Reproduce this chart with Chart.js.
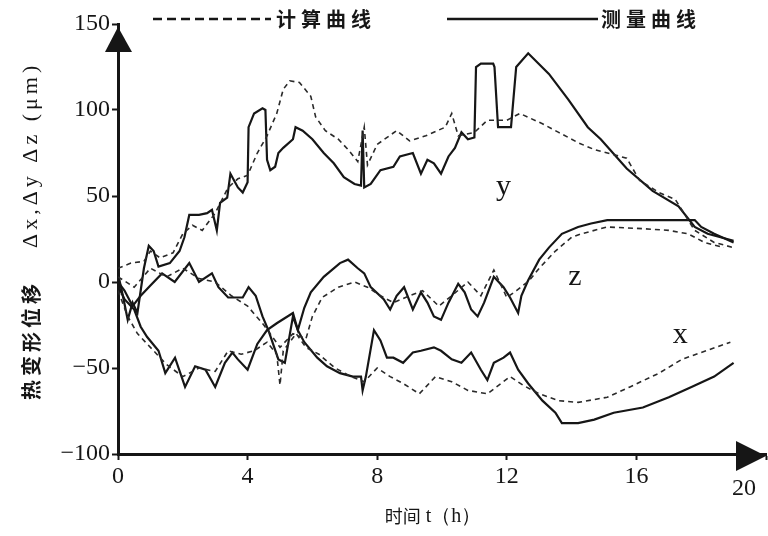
<!DOCTYPE html>
<html>
<head>
<meta charset="utf-8">
<script src="https://cdn.jsdelivr.net/npm/chart.js@4.4.0/dist/chart.umd.min.js"></script>
<style>
  body { margin: 0; background: #fff; }
  canvas { display: block; }
</style>
</head>
<body>
<canvas id="chart" width="768" height="536"></canvas>
<script>
// --- DATA (t in h, displacement in um) ---
// y, measured (solid)
const tYm = [0, 0.15, 0.3, 0.45, 0.6, 0.8, 0.95, 1.1, 1.25, 1.6, 1.9, 2.05, 2.2, 2.5, 2.75, 2.9, 3.05, 3.15, 3.37, 3.47, 3.7, 3.85, 4.0, 4.03, 4.2, 4.46, 4.55, 4.6, 4.7, 4.85, 4.95, 5.1, 5.4, 5.48, 5.7, 6.0, 6.35, 6.66, 6.97, 7.3, 7.5, 7.55, 7.6, 7.8, 8.1, 8.5, 8.7, 9.1, 9.35, 9.55, 9.75, 9.97, 10.2, 10.4, 10.6, 10.8, 11.0, 11.05, 11.2, 11.58, 11.62, 11.73, 12.13, 12.29, 12.66, 13.3, 13.9, 14.5, 14.9, 15.7, 16.5, 17.3, 17.8, 18.2, 19.0];
const vYm = [5, -8, -22, -12, -18, 8, 21, 18, 9, 11, 18, 26, 39, 39, 40, 42, 30, 46, 49, 63, 55, 52, 58, 90, 98, 101, 100, 71, 65, 67, 75, 78, 83, 90, 88, 83, 75, 69, 61, 57, 56, 88, 55, 57, 65, 67, 73, 75, 63, 71, 69, 63, 73, 78, 87, 83, 84, 125, 127, 127, 125, 90, 90, 125, 133, 121, 106, 90, 83, 66, 53, 44, 32, 28, 24];
// y, calculated (dashed)
const tYc = [0, 0.4, 0.8, 1.0, 1.3, 1.7, 2.0, 2.3, 2.6, 3.0, 3.4, 3.7, 4.0, 4.3, 4.6, 4.9, 5.1, 5.3, 5.6, 5.95, 6.1, 6.4, 6.8, 7.1, 7.4, 7.6, 7.7, 8.0, 8.6, 9.0, 9.5, 10.1, 10.3, 10.5, 11.0, 11.4, 12.0, 12.4, 13.1, 13.6, 14.2, 14.7, 15.7, 16.1, 16.7, 17.2, 17.8, 18.4, 19.0];
const vYc = [8, 11, 12, 18, 14, 17, 28, 33, 30, 40, 55, 60, 62, 75, 85, 98, 112, 117, 116, 108, 96, 88, 83, 77, 70, 90, 68, 80, 88, 82, 85, 90, 98, 85, 87, 94, 94, 98, 92, 87, 81, 77, 72, 59, 52, 48, 30, 23, 20];
// z, measured
const tZm = [0, 0.2, 0.45, 0.7, 1.0, 1.36, 1.75, 2.2, 2.5, 2.9, 3.1, 3.4, 3.85, 4.03, 4.25, 4.46, 4.64, 4.95, 5.15, 5.4, 5.55, 5.75, 5.95, 6.35, 6.85, 7.1, 7.4, 7.6, 7.8, 8.2, 8.4, 8.6, 8.83, 9.1, 9.35, 9.55, 9.75, 9.97, 10.2, 10.5, 10.7, 10.9, 11.1, 11.3, 11.6, 11.9, 12.1, 12.35, 12.45, 12.66, 13.0, 13.3, 13.7, 14.2, 14.6, 15.1, 16.5, 17.8, 18.0, 18.4, 19.0];
const vZm = [0, -5, -14, -8, -2, 5, 0, 11, 0, 5, -3, -9, -9, -3, -8, -20, -28, -45, -47, -20, -28, -15, -6, 3, 11, 13, 8, 5, -3, -10, -16, -8, -3, -16, -6, -12, -20, -22, -12, -1, -6, -16, -20, -12, 3, -3, -9, -18, -8, 1, 13, 20, 28, 32, 34, 36, 36, 36, 32, 28, 23];
// z, calculated
const tZc = [0, 0.5, 1.0, 1.5, 2.0, 2.5, 3.0, 3.5, 4.0, 4.5, 5.0, 5.4, 5.8, 6.0, 6.3, 6.8, 7.3, 7.7, 8.1, 8.5, 9.0, 9.4, 9.9, 10.3, 10.8, 11.2, 11.6, 12.0, 12.3, 12.7, 13.0, 13.5, 14.0, 14.3, 15.1, 16.2, 17.0, 17.6, 18.1, 18.7];
const vZc = [3, -3, 8, 3, 8, 2, 0, -8, -14, -25, -38, -30, -33, -20, -9, -3, 0, -3, -8, -12, -8, -5, -14, -8, 0, -8, 7, -9, -5, 1, 8, 18, 26, 28, 32, 31, 30, 28, 23, 20];
// x, measured
const tXm = [0, 0.2, 0.5, 0.7, 0.9, 1.25, 1.46, 1.76, 2.07, 2.38, 2.7, 3.0, 3.3, 3.53, 3.7, 4.0, 4.3, 4.6, 4.9, 5.4, 5.55, 5.75, 6.15, 6.45, 6.85, 7.25, 7.5, 7.55, 7.65, 7.9, 8.1, 8.3, 8.5, 8.8, 9.1, 9.35, 9.75, 9.97, 10.3, 10.6, 10.9, 11.2, 11.4, 11.6, 11.9, 12.1, 12.35, 12.66, 13.1, 13.5, 13.7, 14.2, 14.7, 15.3, 16.2, 17.0, 17.7, 18.4, 19.0];
const vXm = [-2, -10, -16, -26, -32, -40, -53, -44, -61, -49, -51, -61, -47, -41, -45, -51, -36, -28, -24, -18, -28, -35, -44, -49, -53, -55, -55, -63, -55, -28, -34, -44, -44, -47, -41, -40, -38, -40, -45, -47, -41, -51, -57, -47, -44, -41, -51, -59, -69, -76, -82, -82, -80, -76, -73, -67, -61, -55, -47];
// x, calculated
const tXc = [0, 0.3, 0.6, 1.0, 1.5, 2.0, 2.5, 3.0, 3.4, 3.8, 4.2, 4.6, 4.9, 5.0, 5.1, 5.5, 5.8, 6.2, 6.7, 7.2, 7.6, 8.0, 8.4, 8.8, 9.3, 9.8, 10.3, 10.8, 11.4, 12.1, 12.5, 13.0, 13.6, 14.2, 15.1, 15.8, 16.7, 17.4, 18.0, 18.9];
const vXc = [-5, -20, -30, -38, -48, -55, -50, -52, -40, -42, -40, -35, -42, -60, -40, -30, -38, -42, -50, -55, -58, -50, -55, -59, -65, -55, -58, -63, -65, -55, -60, -65, -69, -70, -67, -61, -53, -45, -41, -35];

const legendLabels = ['计算曲线', '测量曲线'];
const curveNames = ['y', 'z', 'x'];
const xTitle = ['时间', ' t（h）'];
const yTitle = ['热变形位移', 'Δx,Δy Δz (μm)'];

// --- STYLE ---
const ink = '#161616';
const serif = '"Liberation Serif", "DejaVu Serif", serif';
const cjk = '"Noto Sans CJK SC", sans-serif';

function toPoints(ts, vs) {
    return ts.map((t, i) => ({ x: t, y: vs[i] }));
}

function solid(ts, vs) {
    return { data: toPoints(ts, vs), borderColor: ink, borderWidth: 2.2, pointRadius: 0, tension: 0 };
}

function dashed(ts, vs) {
    return { data: toPoints(ts, vs), borderColor: '#2a2a2a', borderWidth: 1.6, borderDash: [5, 4], pointRadius: 0, tension: 0 };
}

function minus(v) {
    return v < 0 ? '\u2212' + Math.abs(v) : String(v);
}

// arrows, legend, curve names and axis titles
const decor = {
    id: 'decor',
    afterDraw(chart) {
        const { ctx, chartArea: a, scales: { x, y } } = chart;
        ctx.save();
        ctx.fillStyle = ink;
        ctx.strokeStyle = ink;

        // y axis arrow
        ctx.beginPath();
        ctx.moveTo(a.left, a.top + 3);
        ctx.lineTo(a.left - 13, a.top + 28);
        ctx.lineTo(a.left + 14, a.top + 28);
        ctx.closePath();
        ctx.fill();

        // x axis arrow
        ctx.beginPath();
        ctx.moveTo(a.right, a.bottom + 2);
        ctx.lineTo(a.right - 30, a.bottom - 13);
        ctx.lineTo(a.right - 30, a.bottom + 17);
        ctx.closePath();
        ctx.fill();

        // last x tick label sits under the arrow
        ctx.font = '24px ' + serif;
        ctx.textAlign = 'center';
        ctx.textBaseline = 'middle';
        ctx.fillText('20', a.right - 22, a.bottom + 35);

        // legend
        ctx.lineWidth = 2.5;
        ctx.setLineDash([9, 5]);
        ctx.beginPath();
        ctx.moveTo(153, 19);
        ctx.lineTo(271, 19);
        ctx.stroke();
        ctx.setLineDash([]);
        ctx.beginPath();
        ctx.moveTo(447, 19);
        ctx.lineTo(598, 19);
        ctx.stroke();
        ctx.font = 'bold 20px ' + cjk;
        ctx.letterSpacing = '5px';
        ctx.textAlign = 'left';
        ctx.fillText(legendLabels[0], 276, 19);
        ctx.fillText(legendLabels[1], 601, 19);
        ctx.letterSpacing = '0px';

        // curve names
        ctx.font = '30px ' + serif;
        ctx.textAlign = 'center';
        ctx.fillText(curveNames[0], x.getPixelForValue(11.9), y.getPixelForValue(55));
        ctx.fillText(curveNames[1], x.getPixelForValue(14.1), y.getPixelForValue(3));
        ctx.fillText(curveNames[2], x.getPixelForValue(17.35), y.getPixelForValue(-31));

        // x title
        ctx.textAlign = 'left';
        ctx.font = '18px ' + cjk;
        const w1 = ctx.measureText(xTitle[0]).width;
        ctx.font = '20px ' + serif;
        const w2 = ctx.measureText(xTitle[1]).width;
        const x0 = 433 - (w1 + w2) / 2;
        ctx.font = '18px ' + cjk;
        ctx.fillText(xTitle[0], x0, 516);
        ctx.font = '20px ' + serif;
        ctx.fillText(xTitle[1], x0 + w1, 517);

        // y title, reading bottom to top
        ctx.translate(31, 400);
        ctx.rotate(-Math.PI / 2);
        ctx.font = 'bold 20px ' + cjk;
        ctx.letterSpacing = '4px';
        ctx.fillText(yTitle[0], 0, 0);
        ctx.font = '22px ' + serif;
        ctx.letterSpacing = '4px';
        ctx.fillText(yTitle[1], 152, 0);
        ctx.restore();
    }
};

new Chart(document.getElementById('chart'), {
    type: 'line',
    data: {
        datasets: [
            dashed(tYc, vYc),
            dashed(tZc, vZc),
            dashed(tXc, vXc),
            solid(tYm, vYm),
            solid(tZm, vZm),
            solid(tXm, vXm)
        ]
    },
    options: {
        responsive: false,
        animation: false,
        devicePixelRatio: 1,
        layout: { padding: { top: 24, right: 2, left: 0, bottom: 0 } },
        plugins: {
            legend: { display: false },
            tooltip: { enabled: false }
        },
        scales: {
            x: {
                type: 'linear',
                min: 0,
                max: 20,
                afterFit: (s) => { s.height = 82; },
                border: { color: ink, width: 3 },
                grid: { drawOnChartArea: false, tickLength: 6, tickColor: ink, tickWidth: 2 },
                ticks: {
                    stepSize: 4,
                    color: ink,
                    padding: 2,
                    maxRotation: 0,
                    font: { family: serif, size: 24 },
                    callback: (v) => (v === 20 ? '' : v)
                }
            },
            y: {
                min: -100,
                max: 150,
                afterFit: (s) => { s.width = 118; },
                border: { color: ink, width: 3 },
                grid: { drawOnChartArea: false, tickLength: 6, tickColor: ink, tickWidth: 2 },
                ticks: {
                    stepSize: 50,
                    color: ink,
                    padding: 2,
                    font: { family: serif, size: 24 },
                    callback: (v) => minus(v)
                }
            }
        }
    },
    plugins: [decor]
});
</script>
</body>
</html>
